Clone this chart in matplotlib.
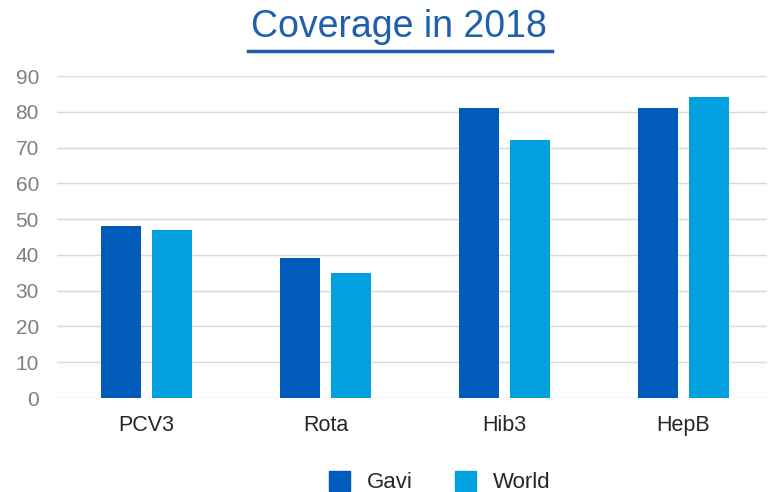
import matplotlib
matplotlib.use("Agg")
import matplotlib.pyplot as plt
from matplotlib.lines import Line2D
from matplotlib.patches import Patch
import numpy as np

plt.rcParams['font.family'] = ['Liberation Sans', 'DejaVu Sans']

categories = ["PCV3", "Rota", "Hib3", "HepB"]
gavi = [48, 39, 81, 81]
world = [47, 35, 72, 84]
series_names = ["Gavi", "World"]
yticks = [0, 10, 20, 30, 40, 50, 60, 70, 80, 90]

gavi_color = "#005BBB"
world_color = "#00A1DE"

W, H = 769, 492
fig = plt.figure(figsize=(W / 100, H / 100), dpi=100)

left, right, bottom, top = 57, 767, 398, 76
ax = fig.add_axes([left / W, 1 - bottom / H, (right - left) / W, (bottom - top) / H])

x = np.arange(len(categories))
bw = 0.223
off = 0.14
ax.bar(x - off, gavi, width=bw, color=gavi_color, zorder=3)
ax.bar(x + off, world, width=bw, color=world_color, zorder=3)

span = (right - left) / 179.0
ax.set_xlim(-0.5, -0.5 + span)
ax.set_ylim(0, 90)
ax.set_yticks(yticks)
ax.set_xticks(x)
ax.set_xticklabels(categories, fontsize=15.5, color="#262626")
ax.tick_params(axis='y', labelsize=15, labelcolor="#7F7F7F", length=0, pad=13)
ax.tick_params(axis='x', length=0, pad=12)
ax.grid(axis='y', color="#D9D9D9", linewidth=1, zorder=0)
for s in ax.spines.values():
    s.set_visible(False)

fig.text(399 / W, 1 - 37 / H, "Coverage in 2018", ha='center', va='baseline',
         fontsize=27, color="#1F5FAD")
fig.add_artist(Line2D([248 / W, 552 / W], [1 - 50.5 / H, 1 - 50.5 / H],
                      color="#1F5FAD", linewidth=2.5, transform=fig.transFigure))

handles = [Patch(color=gavi_color), Patch(color=world_color)]
fig.legend(handles, series_names, loc='center', bbox_to_anchor=(440 / W, 1 - 482 / H),
           ncol=2, frameon=False, fontsize=16, handlelength=0.95, handleheight=1.0,
           handletextpad=0.75, columnspacing=1.9, labelcolor="#262626")

fig.savefig("out.png", dpi=100)
